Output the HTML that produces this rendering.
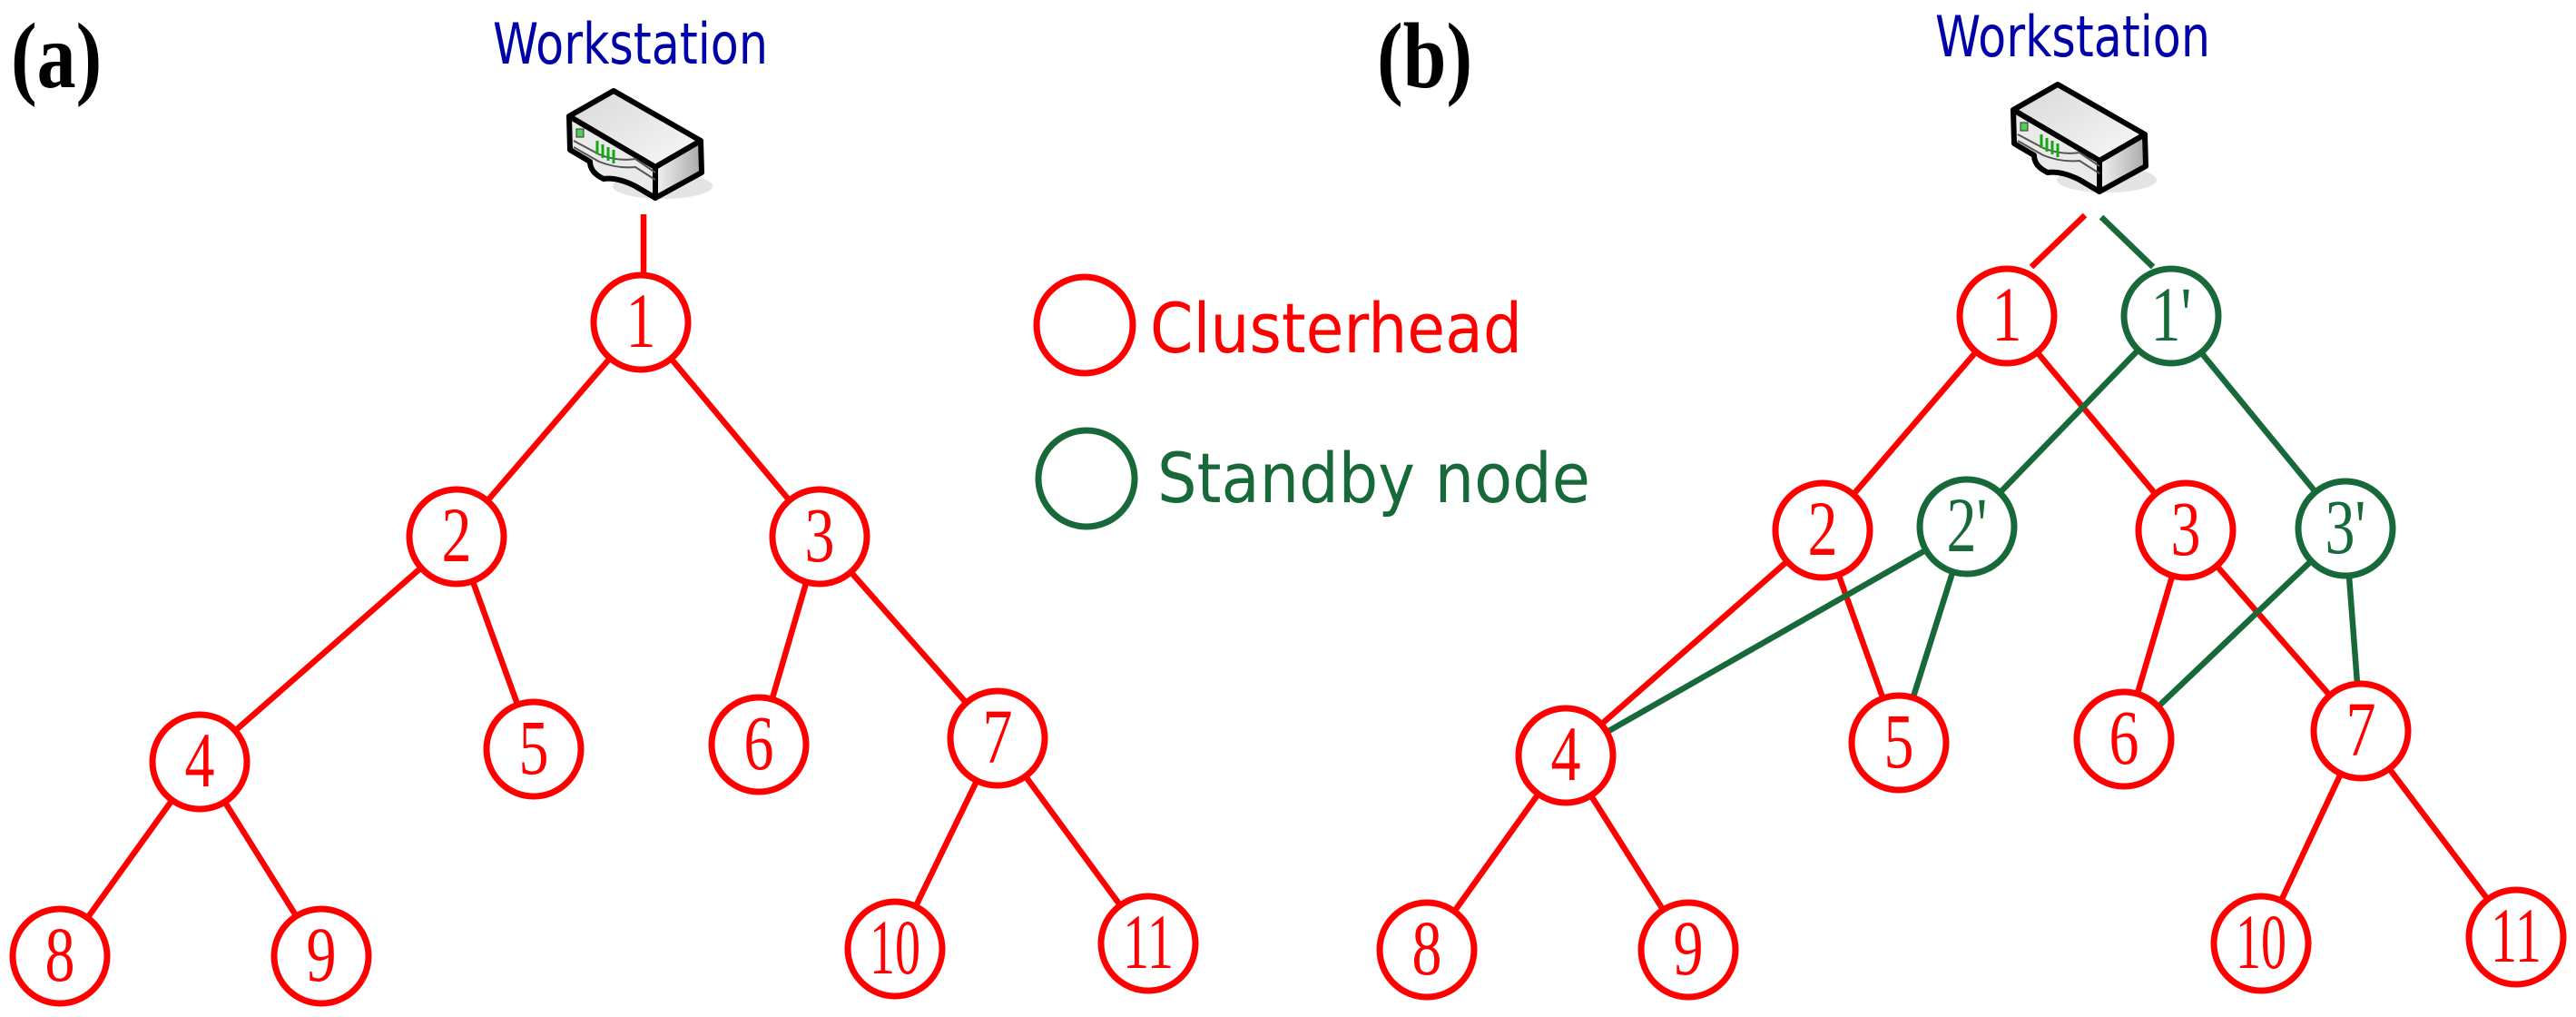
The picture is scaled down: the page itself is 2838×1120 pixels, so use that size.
<!DOCTYPE html>
<html><head><meta charset="utf-8"><style>html,body{margin:0;padding:0;background:#fff}svg{display:block}</style></head>
<body>
<svg width="2838" height="1120" viewBox="0 0 2838 1120" xmlns="http://www.w3.org/2000/svg">
<defs>
<linearGradient id="tg" x1="0" y1="0" x2="1" y2="1"><stop offset="0" stop-color="#d8d8d8"/><stop offset="1" stop-color="#f8f8f8"/></linearGradient>
<linearGradient id="sg" x1="0" y1="0" x2="1" y2="0"><stop offset="0" stop-color="#f2f2f2"/><stop offset="1" stop-color="#a8a8a8"/></linearGradient>
<g id="ws">
<ellipse cx="730" cy="205" rx="55" ry="14" fill="#e4e4e4"/>
<polygon points="676,100 772,155 722,184 627,128" fill="url(#tg)" stroke="#000" stroke-width="6" stroke-linejoin="round"/>
<polygon points="722,184 772,155 773,190 722,218" fill="url(#sg)" stroke="#000" stroke-width="6" stroke-linejoin="round"/>
<path d="M627,128 L722,184 L722,218 L700,205 Q680,195 665,197 Q650,190 650,178 L628,165 Z" fill="#eaeaea" stroke="#000" stroke-width="6" stroke-linejoin="round"/>
<path d="M632,155 L660,170 Q680,178 700,175 L722,190" fill="none" stroke="#555" stroke-width="2"/>
<path d="M632,162 L660,178 Q680,186 700,184 L722,198" fill="none" stroke="#555" stroke-width="2"/>
<rect x="635" y="142" width="8" height="9" fill="#5c5" stroke="#333" stroke-width="1"/>
<g stroke="#1a1" stroke-width="3"><line x1="658" y1="155" x2="658" y2="170"/><line x1="664" y1="159" x2="664" y2="174"/><line x1="670" y1="162" x2="670" y2="177"/><line x1="676" y1="165" x2="676" y2="180"/></g>
</g>
</defs>

<g font-family="'Liberation Serif', serif" font-weight="bold" font-size="86" fill="#000">
<text transform="translate(12,96) scale(1,1.2)">(a)</text>
<text transform="translate(1517,96) scale(1,1.2)">(b)</text>
</g>

<g font-family="'DejaVu Sans', Verdana, sans-serif" fill="#0000a8" font-size="48">
<text transform="translate(543,70) scale(1,1.3)" textLength="303" lengthAdjust="spacingAndGlyphs">Workstation</text>
<text transform="translate(2132,62) scale(1,1.3)" textLength="303" lengthAdjust="spacingAndGlyphs">Workstation</text>
</g>

<use href="#ws"/>
<use href="#ws" transform="translate(1591,-7)"/>

<g stroke="#f00" stroke-width="6.5" fill="none">
<line x1="709" y1="236" x2="709" y2="303"/>
<line x1="706" y1="355" x2="503" y2="591"/>
<line x1="706" y1="355" x2="903" y2="591"/>
<line x1="503" y1="591" x2="220" y2="839"/>
<line x1="503" y1="591" x2="588" y2="825"/>
<line x1="903" y1="591" x2="836" y2="820"/>
<line x1="903" y1="591" x2="1099" y2="813"/>
<line x1="220" y1="839" x2="66" y2="1053"/>
<line x1="220" y1="839" x2="354" y2="1053"/>
<line x1="1099" y1="813" x2="986" y2="1045"/>
<line x1="1099" y1="813" x2="1265" y2="1039"/>
</g>

<g stroke="#f00" stroke-width="6.5" fill="none">
<line x1="2297" y1="237" x2="2238" y2="294"/>
<line x1="2211" y1="348" x2="2008" y2="584"/>
<line x1="2211" y1="348" x2="2408" y2="584"/>
<line x1="2008" y1="584" x2="1725" y2="832"/>
<line x1="2008" y1="584" x2="2092" y2="818"/>
<line x1="2408" y1="584" x2="2340" y2="814"/>
<line x1="2408" y1="584" x2="2601" y2="805"/>
<line x1="1725" y1="832" x2="1572" y2="1046"/>
<line x1="1725" y1="832" x2="1860" y2="1046"/>
<line x1="2601" y1="805" x2="2491" y2="1039"/>
<line x1="2601" y1="805" x2="2772" y2="1032"/>
</g>
<g stroke="#17693a" stroke-width="6.5" fill="none">
<line x1="2315" y1="239" x2="2372" y2="294"/>
<line x1="2392" y1="348" x2="2167" y2="580"/>
<line x1="2392" y1="348" x2="2584" y2="582"/>
<line x1="2167" y1="580" x2="1725" y2="832"/>
<line x1="2167" y1="580" x2="2092" y2="818"/>
<line x1="2584" y1="582" x2="2340" y2="814"/>
<line x1="2584" y1="582" x2="2601" y2="805"/>
</g>

<g fill="#fff" stroke="#f00" stroke-width="7">
<ellipse cx="706" cy="355" rx="52" ry="52"/>
<ellipse cx="503" cy="591" rx="52" ry="52"/>
<ellipse cx="903" cy="591" rx="52" ry="52"/>
<ellipse cx="220" cy="839" rx="52" ry="52"/>
<ellipse cx="588" cy="825" rx="52" ry="52"/>
<ellipse cx="836" cy="820" rx="52" ry="52"/>
<ellipse cx="1099" cy="813" rx="52" ry="52"/>
<ellipse cx="66" cy="1053" rx="52" ry="52"/>
<ellipse cx="354" cy="1053" rx="52" ry="52"/>
<ellipse cx="986" cy="1045" rx="52" ry="52"/>
<ellipse cx="1265" cy="1039" rx="52" ry="52"/>
<ellipse cx="1195" cy="358" rx="53" ry="53"/>
<ellipse cx="2211" cy="348" rx="52" ry="52"/>
<ellipse cx="2008" cy="584" rx="52" ry="52"/>
<ellipse cx="2408" cy="584" rx="52" ry="52"/>
<ellipse cx="1725" cy="832" rx="52" ry="52"/>
<ellipse cx="2092" cy="818" rx="52" ry="52"/>
<ellipse cx="2340" cy="814" rx="52" ry="52"/>
<ellipse cx="2601" cy="805" rx="52" ry="52"/>
<ellipse cx="1572" cy="1046" rx="52" ry="52"/>
<ellipse cx="1860" cy="1046" rx="52" ry="52"/>
<ellipse cx="2491" cy="1039" rx="52" ry="52"/>
<ellipse cx="2772" cy="1032" rx="52" ry="52"/>
</g>
<g fill="#fff" stroke="#17693a" stroke-width="7">
<ellipse cx="1197" cy="527" rx="53" ry="53"/>
<ellipse cx="2392" cy="348" rx="52" ry="52"/>
<ellipse cx="2167" cy="580" rx="52" ry="52"/>
<ellipse cx="2584" cy="582" rx="52" ry="52"/>
</g>

<g font-family="'Liberation Serif', serif" font-size="66" fill="#f00" text-anchor="middle">
<text transform="translate(706,382) scale(1,1.3)">1</text>
<text transform="translate(503,618) scale(1,1.3)">2</text>
<text transform="translate(903,618) scale(1,1.3)">3</text>
<text transform="translate(220,866) scale(1,1.3)">4</text>
<text transform="translate(588,852) scale(1,1.3)">5</text>
<text transform="translate(836,847) scale(1,1.3)">6</text>
<text transform="translate(1099,840) scale(1,1.3)">7</text>
<text transform="translate(66,1080) scale(1,1.3)">8</text>
<text transform="translate(354,1080) scale(1,1.3)">9</text>
<text transform="translate(986,1072) scale(1,1.3)" textLength="56" lengthAdjust="spacingAndGlyphs">10</text>
<text transform="translate(1265,1066) scale(1,1.3)" textLength="56" lengthAdjust="spacingAndGlyphs">11</text>
<text transform="translate(2211,375) scale(1,1.3)">1</text>
<text transform="translate(2008,611) scale(1,1.3)">2</text>
<text transform="translate(2408,611) scale(1,1.3)">3</text>
<text transform="translate(1725,859) scale(1,1.3)">4</text>
<text transform="translate(2092,845) scale(1,1.3)">5</text>
<text transform="translate(2340,841) scale(1,1.3)">6</text>
<text transform="translate(2601,832) scale(1,1.3)">7</text>
<text transform="translate(1572,1073) scale(1,1.3)">8</text>
<text transform="translate(1860,1073) scale(1,1.3)">9</text>
<text transform="translate(2491,1066) scale(1,1.3)" textLength="56" lengthAdjust="spacingAndGlyphs">10</text>
<text transform="translate(2772,1059) scale(1,1.3)" textLength="56" lengthAdjust="spacingAndGlyphs">11</text>
</g>
<g font-family="'Liberation Serif', serif" font-size="66" fill="#17693a" text-anchor="middle">
<text transform="translate(2392,375) scale(1,1.3)">1'</text>
<text transform="translate(2167,607) scale(1,1.3)">2'</text>
<text transform="translate(2584,609) scale(1,1.3)">3'</text>
</g>

<g font-family="'DejaVu Sans', Verdana, sans-serif" font-size="62">
<text transform="translate(1267,388) scale(1,1.22)" fill="#f00" textLength="410" lengthAdjust="spacingAndGlyphs">Clusterhead</text>
<text transform="translate(1275,553) scale(1,1.22)" fill="#17693a" textLength="477" lengthAdjust="spacingAndGlyphs">Standby node</text>
</g>
</svg>
</body></html>
